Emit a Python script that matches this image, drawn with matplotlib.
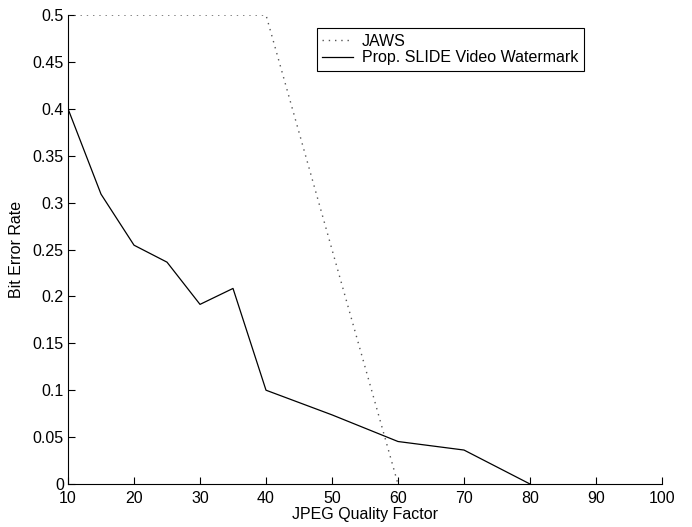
import matplotlib
matplotlib.use("Agg")
import matplotlib.pyplot as plt

# JPEG quality factor vs. bit error rate
quality = [10, 15, 20, 25, 30, 35, 40, 50, 60, 70, 80]
ber_slide = [0.4, 0.309, 0.2546, 0.2365, 0.1915, 0.2085, 0.1, 0.0737, 0.0453, 0.0362, 0.0]

jaws_quality = [10, 40, 60]
ber_jaws = [0.5, 0.5, 0.0]

x_ticks = [10, 20, 30, 40, 50, 60, 70, 80, 90, 100]
y_ticks = [0, 0.05, 0.1, 0.15, 0.2, 0.25, 0.3, 0.35, 0.4, 0.45, 0.5]
y_labels = ["0", "0.05", "0.1", "0.15", "0.2", "0.25", "0.3",
            "0.35", "0.4", "0.45", "0.5"]

plt.rcParams["font.family"] = ["Liberation Sans", "DejaVu Sans"]
plt.rcParams["font.size"] = 11.5

fig = plt.figure(figsize=(6.92, 5.27), dpi=100)
ax = fig.add_axes([0.0983, 0.0816, 0.8583, 0.8899])

ax.plot(jaws_quality, ber_jaws, color="#555555", linestyle=(0, (1, 3.5)),
        linewidth=1.0, label="JAWS")
ax.plot(quality, ber_slide, color="black", linewidth=0.9,
        label="Prop. SLIDE Video Watermark")

ax.set_xlim(10, 100)
ax.set_ylim(0, 0.5)
ax.set_xticks(x_ticks)
ax.set_yticks(y_ticks)
ax.set_yticklabels(y_labels)
ax.tick_params(direction="in", length=5, width=0.8)
ax.tick_params(axis="x", pad=5)
ax.tick_params(axis="y", pad=3)
ax.spines["top"].set_visible(False)
ax.spines["right"].set_visible(False)
ax.spines["left"].set_linewidth(0.8)
ax.spines["bottom"].set_linewidth(0.8)

ax.set_xlabel("JPEG Quality Factor", labelpad=1)
ax.set_ylabel("Bit Error Rate", labelpad=6)

leg = ax.legend(loc="upper left", bbox_to_anchor=(0.419, 0.972),
                borderaxespad=0, fancybox=False, edgecolor="black",
                framealpha=1, borderpad=0.35, handlelength=1.9,
                handletextpad=0.55, labelspacing=0.1)
leg.get_frame().set_linewidth(0.8)

fig.savefig("out.png", dpi=100)
